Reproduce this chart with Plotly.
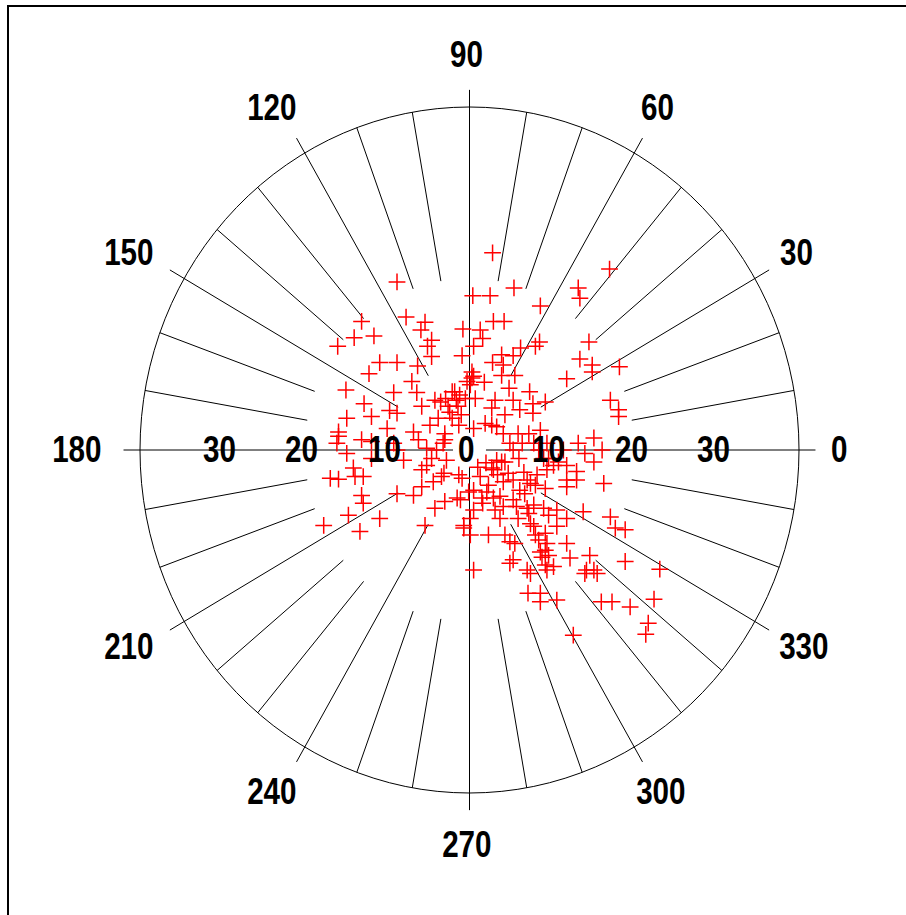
import numpy as np
import plotly.graph_objects as go

# ---------------- data ----------------
angle_ticks = [0, 30, 60, 90, 120, 150, 180, 210, 240, 270, 300, 330]
angle_labels = ["0", "30", "60", "90", "120", "150", "180", "210", "240", "270", "300", "330"]
minor_angles = [10, 20, 40, 50, 70, 80, 100, 110, 130, 140, 160, 170,
                190, 200, 220, 230, 250, 260, 280, 290, 310, 320, 340, 350]
radial_ticks = [-30, -20, -10, 0, 10, 20, 30]
radial_labels = ["30", "20", "10", "0", "10", "20", "30"]
r_max = 40

# east (u) and north (v) components of each observation
u_vals = [
    2.8, -8.8, 17.0, 0.4, 2.5, 5.4, 13.2, 13.4, 8.6, -13.1,
    -7.7, -5.4, -5.9, -0.8, 1.3, 2.9, 4.2, -14.0, -11.6, -16.0,
    -4.6, -5.1, 1.6, 0.5, 14.5, 8.5, 8.0, 6.2, -4.6, -0.9,
    -10.9, -8.8, -12.2, -6.3, 3.9, 5.3, 2.8, 4.1, 13.4, 14.9,
    14.9, 18.2, 11.8, 3.9, 5.5, 0.3, 0.5, -0.3, 1.8, -7.0,
    4.8, 7.3, -15.0, -9.2, -6.4, 17.1, 18.1, -12.8, -4.2, -2.9,
    -1.8, -1.6, -0.5, 0.7, 3.1, 2.7, 5.3, 9.2, 7.7, -5.8,
    -9.7, -8.8, -2.6, -1.4, 4.3, 6.1, 7.7, -11.9, -14.9, 18.1,
    -15.9, -15.9, -16.1, -13.1, -14.9, -11.9, -11.9, -10.0, -9.2, -8.8,
    -8.0, -6.8, -6.2, -5.2, -4.6, -4.0, -3.0, -3.0, -2.8, -5.8,
    -5.2, -14.1, -13.9, -16.9, -15.9, -12.9,
    -13.1, -12.9, -14.7, -17.7, -13.3, -10.9, -8.8, -6.8, -5.8, -4.4,
    -3.4, -3.1, -4.2, -3.0, -5.4, -1.3, -0.9, -1.5, -1.1, -0.7,
    -0.7, 0.1, 0.5, 0.1, 0.5, -0.1,
    1.3, 1.5, 0.5, 2.3, 2.7, 2.9, 3.9, 4.1, 2.1, 2.9,
    3.7, 4.1, 3.1, 3.7, 2.3, 4.3, 5.3, 5.7, 5.9, 6.1,
    4.9, 5.5, 6.7, 7.0, 7.2,
    7.8, 7.4, 7.8, 8.2, 8.0, 9.2, 9.0, 9.6, 8.0, 8.4,
    9.2, 9.4, 8.6, 9.2, 8.8, 9.6, 9.2, 10.2, 9.4, 7.0,
    7.4, 5.3, 4.9, 7.1, 8.6, 8.6,
    10.6, 12.6, 10.6, 10.6, 11.8, 11.8, 12.2, 13.8, 14.6, 14.2,
    15.1, 15.5, 14.0, 17.1, 17.7, 18.9, 18.9, 16.0, 17.3, 19.5,
    16.3, 11.8, 11.8, 13.0, 13.0,
    11.8, 10.8, 10.2, 9.4, 13.2, 14.0, 15.1, 15.1, 16.1, 11.4,
    9.6, 9.0, 8.6, 9.4, 7.8, 8.4, 6.0, 5.3, 6.4, 4.9,
    4.3, 3.3, 4.7, 5.3,
    7.0, 7.4, 5.9, 7.2, 4.1, 3.3, 2.7, 1.9, 0.5, -1.3, -3.2,
    22.4, 21.7, 21.4, 23.1,
    -3.5, -2.1, -1.2, 0.1, -3.8, -4.8, -2.1, -1.0, 0.3, -2.4,
    1.0, 2.0, 3.4, 1.6, 6.6,
]
v_vals = [
    23.0, 19.6, 21.1, 18.0, 18.0, 18.9, 18.9, 17.7, 16.8, 15.0,
    15.5, 14.9, 14.0, 14.1, 14.0, 15.0, 15.0, 13.1, 13.3, 12.1,
    12.8, 12.1, 13.0, 12.1, 12.6, 12.6, 12.1, 11.9, 10.9, 11.0,
    10.2, 10.2, 8.9, 9.8, 11.1, 11.0, 10.2, 9.9, 10.6, 9.9,
    9.1, 9.7, 8.3, 8.7, 8.7, 9.1, 8.6, 8.0, 7.9, 8.0,
    7.2, 6.8, 7.0, 6.7, 6.7, 5.8, 4.7, 5.4, 5.8, 6.0,
    6.8, 5.8, 6.0, 6.0, 5.8, 4.9, 5.8, 5.6, 5.4, 5.1,
    4.6, 4.3, 5.1, 5.1, 4.1, 4.7, 4.3, 3.9, 3.7, 3.9,
    2.1, 1.6, 0.8, 1.2, -0.4, 1.0, -1.0, 2.5, 0.8, 0.0,
    -1.2, 2.1, 1.2, 0.2, -1.0, 0.0, 1.9, 1.2, -1.2, -2.3,
    -1.8, -2.1, -3.1, -3.3, -3.4, -3.1,
    -5.3, -6.2, -7.6, -8.8, -9.5, -8.0, -5.1, -5.3, -4.3, -3.7,
    -3.1, -2.7, -6.8, -6.0, -8.8, -2.9, -3.3, -5.6, -5.8, -8.8,
    -9.1, -9.9, -14.0, -8.0, -7.0, -4.9,
    -3.1, -5.6, -4.7, -4.1, -2.1, -2.3, -1.4, -3.7, -4.9, -5.6,
    -5.4, -6.6, -7.0, -8.0, -9.9, -9.9, -5.8, -6.6, -8.0, -4.7,
    -10.7, -10.9, -5.1, -6.8, -7.4,
    -6.4, -8.6, -8.9, -2.9, -4.1, -4.5, -6.8, -7.6, -9.9, -10.5,
    -9.7, -10.9, -11.9, -11.7, -12.5, -12.3, -13.4, -13.6, -14.0, -14.0,
    -14.4, -12.8, -13.2, -16.7, -16.7, -17.7,
    -17.5, -21.6, -7.0, -8.9, -8.0, -10.9, -12.6, -7.2, -12.3, -14.0,
    -14.0, -14.4, -14.4, -7.8, -9.1, -9.3, -13.0, -17.7, -17.7, -18.3,
    -3.9, -3.5, -4.3, -2.5, -3.5,
    -1.8, -1.4, -1.8, -2.3, 0.8, -0.4, -1.4, 1.4, 0.0, 0.0,
    -1.0, -1.0, 2.3, 0.8, 0.8, 0.0, -1.0, 0.0, 0.8, 0.8,
    -1.4, -1.2, -2.7, -3.5,
    -3.5, -3.9, 1.9, 1.9, 1.9, 2.7, 2.9, 3.1, 2.5, 2.9, 0.8,
    -17.4, -20.2, -21.5, -13.9,
    5.6, 6.8, 6.4, 7.6, 3.7, 2.9, 3.7, 4.1, 8.4, 4.4,
    -2.0, -1.5, -2.9, -6.2, -2.6,
]

# ---------------- geometry helpers ----------------
def spokes(angles, r0, r1):
    xs, ys = [], []
    for a in angles:
        t = np.deg2rad(a)
        xs += [r0 * np.cos(t), r1 * np.cos(t), None]
        ys += [r0 * np.sin(t), r1 * np.sin(t), None]
    return xs, ys

axis_angles = [a for a in angle_ticks if a % 90 == 0]
diag_angles = [a for a in angle_ticks if a % 90 != 0]

fig = go.Figure()
for angs, r0, r1 in [(minor_angles, 20, r_max), (diag_angles, 10, 42), (axis_angles, 2, 42)]:
    xs, ys = spokes(angs, r0, r1)
    fig.add_trace(go.Scatter(x=xs, y=ys, mode="lines",
                             line=dict(color="black", width=1),
                             hoverinfo="skip", showlegend=False))

fig.add_shape(type="circle", xref="x", yref="y", x0=-r_max, y0=-r_max, x1=r_max, y1=r_max,
              line=dict(color="black", width=1))

fig.add_trace(go.Scatter(x=u_vals, y=v_vals, mode="markers",
                         marker=dict(symbol="cross-thin", size=12,
                                     line=dict(color="red", width=1.5)),
                         showlegend=False))

label_font = dict(family="Liberation Sans, Arial, sans-serif", size=37, color="black", weight="bold")

R_lab = 44.25
for a, lab in zip(angle_ticks, angle_labels):
    t = np.deg2rad(a)
    w = 17.2 * len(lab) - 1
    fig.add_annotation(x=R_lab * np.cos(t), y=R_lab * np.sin(t), text=lab,
                       showarrow=False, xanchor="center", yanchor="middle",
                       xshift=w / 2 * np.cos(t) - 3, yshift=15.5 * np.sin(t) + 0.5,
                       font=label_font)

for rv, lab in zip(radial_ticks, radial_labels):
    fig.add_annotation(x=rv, y=0, text=lab, showarrow=False,
                       xanchor="center", yanchor="middle", xshift=-3, yshift=0.5,
                       font=label_font)

# outer frame
fig.add_shape(type="rect", xref="paper", yref="paper",
              x0=8 / 906, x1=1.05, y0=-0.05, y1=1 - 6 / 915,
              line=dict(color="black", width=2))

fig.update_layout(
    width=906, height=915,
    margin=dict(l=0, r=0, t=0, b=0),
    paper_bgcolor="white", plot_bgcolor="white",
    xaxis=dict(range=[-469.5 / 8.2375, 436.5 / 8.2375], visible=False, fixedrange=True),
    yaxis=dict(range=[-465 / 8.575, 450 / 8.575], visible=False, fixedrange=True),
)

post = (
    "document.body.style.margin='0';document.body.style.padding='0';"
    "document.documentElement.style.overflow='hidden';"
    "function sq(){document.querySelectorAll('text.annotation-text').forEach(function(t){"
    "t.style.transformBox='fill-box';t.style.transformOrigin='center';"
    "t.style.transform='scaleX(0.8)';});}"
    "sq();setTimeout(sq,30);"
)

fig.write_html("out.html", config={"displayModeBar": False}, post_script=post)
